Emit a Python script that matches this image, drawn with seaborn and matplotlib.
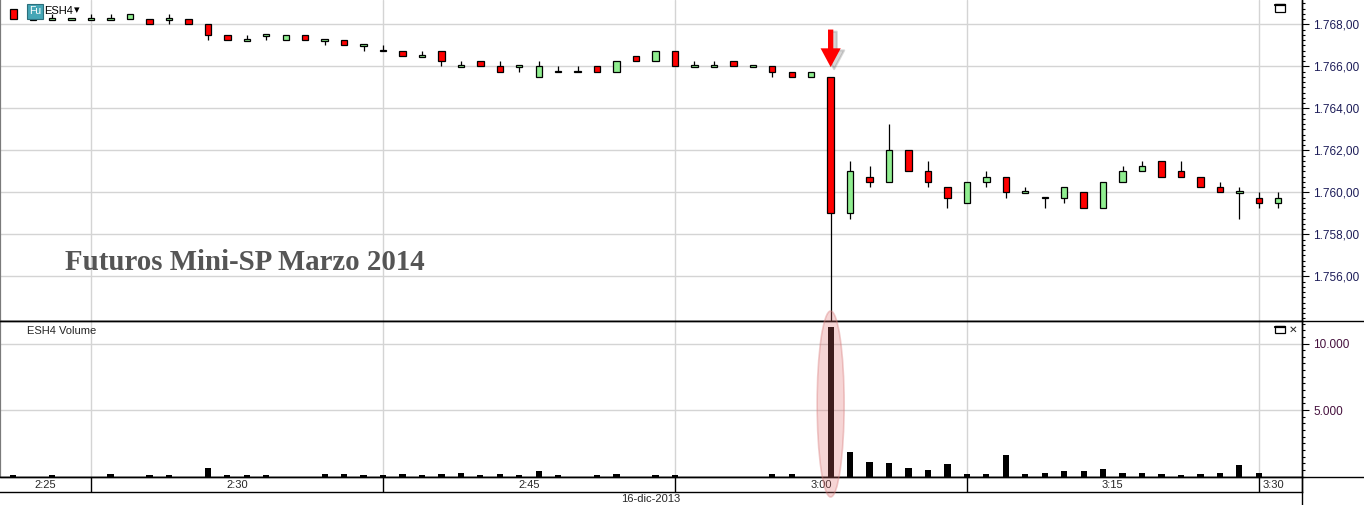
import matplotlib
matplotlib.use("Agg")
import matplotlib.pyplot as plt
import matplotlib.patches as mpatches
import matplotlib.transforms as mtransforms
from matplotlib.lines import Line2D
from matplotlib.ticker import MultipleLocator, FixedLocator, FuncFormatter
import numpy as np
import pandas as pd
import seaborn as sns


# ---------------------------------------
# ESH4 1-minute bars, 16-dic-2013
# ---------------------------------------
opens = [1768.75, 1768.25, 1768.25, 1768.25, 1768.25, 1768.25, 1768.25, 1768.25, 1768.25, 1768.25,
         1768.00, 1767.50, 1767.25, 1767.50, 1767.25, 1767.50, 1767.25, 1767.25, 1767.00, 1766.75,
         1766.75, 1766.50, 1766.75, 1766.00, 1766.25, 1766.00, 1766.00, 1765.50, 1765.75, 1765.75,
         1766.00, 1765.75, 1766.50, 1766.25, 1766.75, 1766.00, 1766.00, 1766.25, 1766.00, 1766.00,
         1765.75, 1765.50, 1765.50, 1759.00, 1760.75, 1760.50, 1762.00, 1761.00, 1760.25, 1759.50,
         1760.50, 1760.75, 1760.00, 1759.75, 1759.75, 1760.00, 1759.25, 1760.50, 1761.00, 1761.50,
         1761.00, 1760.75, 1760.25, 1760.00, 1759.75, 1759.50]
highs = [1768.75, 1768.50, 1768.50, 1768.25, 1768.50, 1768.50, 1768.50, 1768.25, 1768.50, 1768.25,
         1768.00, 1767.50, 1767.50, 1767.50, 1767.50, 1767.50, 1767.25, 1767.25, 1767.00, 1767.00,
         1766.75, 1766.75, 1766.75, 1766.25, 1766.25, 1766.25, 1766.00, 1766.25, 1766.00, 1766.00,
         1766.00, 1766.25, 1766.50, 1766.75, 1766.75, 1766.25, 1766.25, 1766.25, 1766.00, 1766.00,
         1765.75, 1765.75, 1765.50, 1761.50, 1761.25, 1763.25, 1762.00, 1761.50, 1760.25, 1760.50,
         1761.00, 1760.75, 1760.25, 1759.75, 1760.25, 1760.00, 1760.50, 1761.25, 1761.50, 1761.50,
         1761.50, 1760.75, 1760.50, 1760.25, 1760.00, 1760.00]
lows = [1768.25, 1768.25, 1768.25, 1768.25, 1768.25, 1768.25, 1768.25, 1768.00, 1768.00, 1768.00,
        1767.25, 1767.25, 1767.25, 1767.25, 1767.25, 1767.25, 1767.00, 1767.00, 1766.75, 1766.75,
        1766.50, 1766.50, 1766.00, 1766.00, 1766.00, 1765.75, 1765.75, 1765.50, 1765.75, 1765.75,
        1765.75, 1765.75, 1766.25, 1766.25, 1766.00, 1766.00, 1766.00, 1766.00, 1766.00, 1765.50,
        1765.50, 1765.50, 1753.75, 1758.75, 1760.25, 1760.50, 1761.00, 1760.25, 1759.25, 1759.50,
        1760.25, 1759.75, 1760.00, 1759.25, 1759.50, 1759.25, 1759.25, 1760.50, 1761.00, 1760.75,
        1760.75, 1760.25, 1760.00, 1758.75, 1759.25, 1759.25]
closes = [1768.25, 1768.25, 1768.25, 1768.25, 1768.25, 1768.25, 1768.50, 1768.00, 1768.25, 1768.00,
          1767.50, 1767.25, 1767.25, 1767.50, 1767.50, 1767.25, 1767.25, 1767.00, 1767.00, 1766.75,
          1766.50, 1766.50, 1766.25, 1766.00, 1766.00, 1765.75, 1766.00, 1766.00, 1765.75, 1765.75,
          1765.75, 1766.25, 1766.25, 1766.75, 1766.00, 1766.00, 1766.00, 1766.00, 1766.00, 1765.75,
          1765.50, 1765.75, 1759.00, 1761.00, 1760.50, 1762.00, 1761.00, 1760.50, 1759.75, 1760.50,
          1760.75, 1760.00, 1760.00, 1759.75, 1760.25, 1759.25, 1760.50, 1761.00, 1761.25, 1760.75,
          1760.75, 1760.25, 1760.00, 1760.00, 1759.50, 1759.75]
volume = [100, 0, 100, 0, 0, 175, 0, 100, 100, 0,
          610, 100, 100, 100, 0, 0, 175, 175, 100, 100,
          175, 100, 175, 250, 100, 175, 100, 400, 100, 0,
          100, 175, 0, 100, 100, 0, 0, 0, 0, 175,
          175, 0, 11250, 1850, 1090, 990, 610, 455, 940, 175,
          175, 1620, 175, 250, 380, 380, 530, 250, 300, 175,
          100, 175, 300, 860, 250, 0]

minutes = np.arange(len(closes))
# bar index where the time axis is split, and the label of each block
split_bars = [4, 19, 34, 49, 64]
block_labels = ["2:25", "2:30", "2:45", "3:00", "3:15", "3:30"]
price_ticks = [1756, 1758, 1760, 1762, 1764, 1766, 1768]
volume_ticks = [5000, 10000]
date_label = "16-dic-2013"
symbol = "ESH4"
title = "Futuros Mini-SP Marzo 2014"
spike_bar = 42

W, H = 1364, 505
XLIM = (-0.683, 66.22)
PRICE_LIM = (1753.87, 1769.157)
VOL_LIM = (0, 11692)

sns.set_style("white")
plt.rcParams['font.family'] = ['Liberation Sans', 'DejaVu Sans']


def fx(px):
    return px / W


def fy(py):
    return 1 - py / H


fig = plt.figure(figsize=(W / 100, H / 100), dpi=100)
ax_p = fig.add_axes([0, fy(321), fx(1302), 321 / H])
ax_v = fig.add_axes([0, fy(476.5), fx(1302), (476.5 - 321) / H])
ax_t = fig.add_axes([0, fy(492), fx(1302), (492 - 476.5) / H])

grid_c = '#d4d4d4'

#-----------------------
# price panel (candles)
#-----------------------
o = np.array(opens)
c = np.array(closes)
body_lo = np.minimum(o, c)
body_h = np.maximum(np.abs(c - o), 0.09)
body_lo = np.where(np.abs(c - o) < 0.01, o - 0.045, body_lo)
cols = np.where(c >= o, '#90ee90', '#ff0000')

ax_p.vlines(minutes, lows, highs, color='black', lw=0.9, zorder=2)
ax_p.bar(minutes, body_h, bottom=body_lo, width=0.33, color=cols,
         edgecolor='black', linewidth=0.9, zorder=3)

ax_p.set_xlim(*XLIM)
ax_p.set_ylim(*PRICE_LIM)
ax_p.yaxis.tick_right()
ax_p.yaxis.set_major_locator(FixedLocator(price_ticks))
ax_p.yaxis.set_minor_locator(MultipleLocator(0.25))
ax_p.yaxis.set_major_formatter(FuncFormatter(
    lambda v, pos: f"{v:,.2f}".replace(",", "X").replace(".", ",").replace("X", ".")))
ax_p.set_xticks(split_bars)
ax_p.tick_params(axis='x', length=0, labelbottom=False)
ax_p.tick_params(axis='y', which='major', length=5, width=0.8, colors='black',
                 labelcolor='#1c1c58', labelsize=8.5, pad=3)
ax_p.tick_params(axis='y', which='minor', length=2.5, width=0.8, colors='black')
ax_p.grid(True, which='major', color=grid_c, lw=1)
ax_p.set_axisbelow(True)

#-----------------------
# volume panel
#-----------------------
vol_df = pd.DataFrame({'minute': minutes, 'volume': volume})
sns.barplot(data=vol_df, x='minute', y='volume', native_scale=True, color='black',
            saturation=1, width=0.32, errorbar=None, linewidth=0, ax=ax_v, zorder=3)
ax_v.set_xlabel('')
ax_v.set_ylabel('')
ax_v.set_xlim(*XLIM)
ax_v.set_ylim(*VOL_LIM)
ax_v.yaxis.tick_right()
ax_v.yaxis.set_major_locator(FixedLocator(volume_ticks))
ax_v.yaxis.set_minor_locator(MultipleLocator(500))
ax_v.yaxis.set_major_formatter(FuncFormatter(lambda v, pos: f"{int(v):,}".replace(",", ".")))
ax_v.set_xticks(split_bars)
ax_v.tick_params(axis='x', length=0, labelbottom=False)
ax_v.tick_params(axis='y', which='major', length=5, width=0.8, colors='black',
                 labelcolor='#45103d', labelsize=8.5, pad=3)
ax_v.tick_params(axis='y', which='minor', length=2.5, width=0.8, colors='black')
ax_v.grid(True, which='major', color=grid_c, lw=1)
ax_v.set_axisbelow(True)
ax_v.text(0.021, 0.935, f"{symbol} Volume", transform=ax_v.transAxes, fontsize=8,
          va='center', ha='left')

#-----------------------
# time axis row
#-----------------------
ax_t.set_xlim(*XLIM)
ax_t.set_ylim(0, 1)
ax_t.set_xticks([])
ax_t.set_yticks([])
for b in split_bars:
    ax_t.axvline(b, color='black', lw=1)
edges = [XLIM[0]] + split_bars + [XLIM[1]]
for i, lab in enumerate(block_labels):
    if i == len(block_labels) - 1:
        ax_t.text(edges[i] + 0.2, 0.45, lab, ha='left', va='center', fontsize=8)
    else:
        ax_t.text((edges[i] + edges[i + 1]) / 2, 0.45, lab, ha='center', va='center', fontsize=8)

for ax in (ax_p, ax_v, ax_t):
    for side in ('top', 'bottom', 'right'):
        ax.spines[side].set_color('black')
        ax.spines[side].set_linewidth(1)
    ax.spines['left'].set_color('#7a7a7a')
    ax.spines['left'].set_linewidth(1.6)
ax_p.spines['top'].set_visible(False)
ax_t.spines['left'].set_visible(False)

fig.text(fx(651), fy(499), date_label, ha='center', va='center', fontsize=8)

# long separator lines reaching into the scale area
fig.add_artist(Line2D([0, 1], [fy(321), fy(321)], color='black', lw=1))
fig.add_artist(Line2D([0, 1], [fy(476.5), fy(476.5)], color='black', lw=1))
fig.add_artist(Line2D([fx(1302), fx(1302)], [0, 1], color='black', lw=1))

#-----------------------
# annotations
#-----------------------
fig.text(fx(65), fy(263), title, ha='left', va='center', fontsize=20.8,
         family='Liberation Serif', weight='bold', color='#555555')

shadow = mtransforms.offset_copy(ax_p.transData, fig, x=2.5, y=-1.5, units='points')
arrow_style = 'simple,head_length=1.35,head_width=1.45,tail_width=0.38'
ax_p.annotate('', xy=(spike_bar, highs[spike_bar]), xycoords=shadow,
              xytext=(0, 34), textcoords='offset points',
              arrowprops=dict(arrowstyle=arrow_style, mutation_scale=10, color='#666666',
                              alpha=0.25, shrinkA=0, shrinkB=7, lw=1.5), annotation_clip=False)
ax_p.annotate('', xy=(spike_bar, highs[spike_bar]), xytext=(0, 34), textcoords='offset points',
              arrowprops=dict(arrowstyle=arrow_style, mutation_scale=10, color='#ff0000',
                              shrinkA=0, shrinkB=7, lw=0), annotation_clip=False)

spike_x = ax_p.transData.transform((spike_bar, 0))[0] / fig.dpi / fig.get_figwidth()
fig.add_artist(mpatches.Ellipse((spike_x, fy(404)), 27 / W, 186 / H,
                                facecolor=(0.88, 0.42, 0.42, 0.28),
                                edgecolor=(0.85, 0.5, 0.5, 0.4), lw=1.2, zorder=10))

# symbol badge top-left
fig.add_artist(mpatches.Rectangle((fx(27), fy(18.5)), 16 / W, 14.5 / H,
                                  facecolor='#45a6b6', edgecolor='#2b6f7c', lw=0.8))
fig.text(fx(35), fy(11.5), "Fu", ha='center', va='center', fontsize=7.5, color='white')
fig.text(fx(44.5), fy(11), symbol, ha='left', va='center', fontsize=8, color='black')
fig.text(fx(74), fy(10.5), "\u25be", ha='left', va='center', fontsize=8, color='black',
         family=['DejaVu Sans'])

# window buttons
for top in (4.5, 326):
    fig.add_artist(mpatches.Rectangle((fx(1275), fy(top + 7)), 10 / W, 7 / H,
                                      facecolor='white', edgecolor='black', lw=0.9))
    fig.add_artist(Line2D([fx(1275), fx(1285)], [fy(top + 0.6), fy(top + 0.6)],
                          color='black', lw=1.6))
fig.text(fx(1293.5), fy(329.5), "\u2715", ha='center', va='center', fontsize=7.5,
         family=['DejaVu Sans'])

fig.savefig("out.png", dpi=100)
